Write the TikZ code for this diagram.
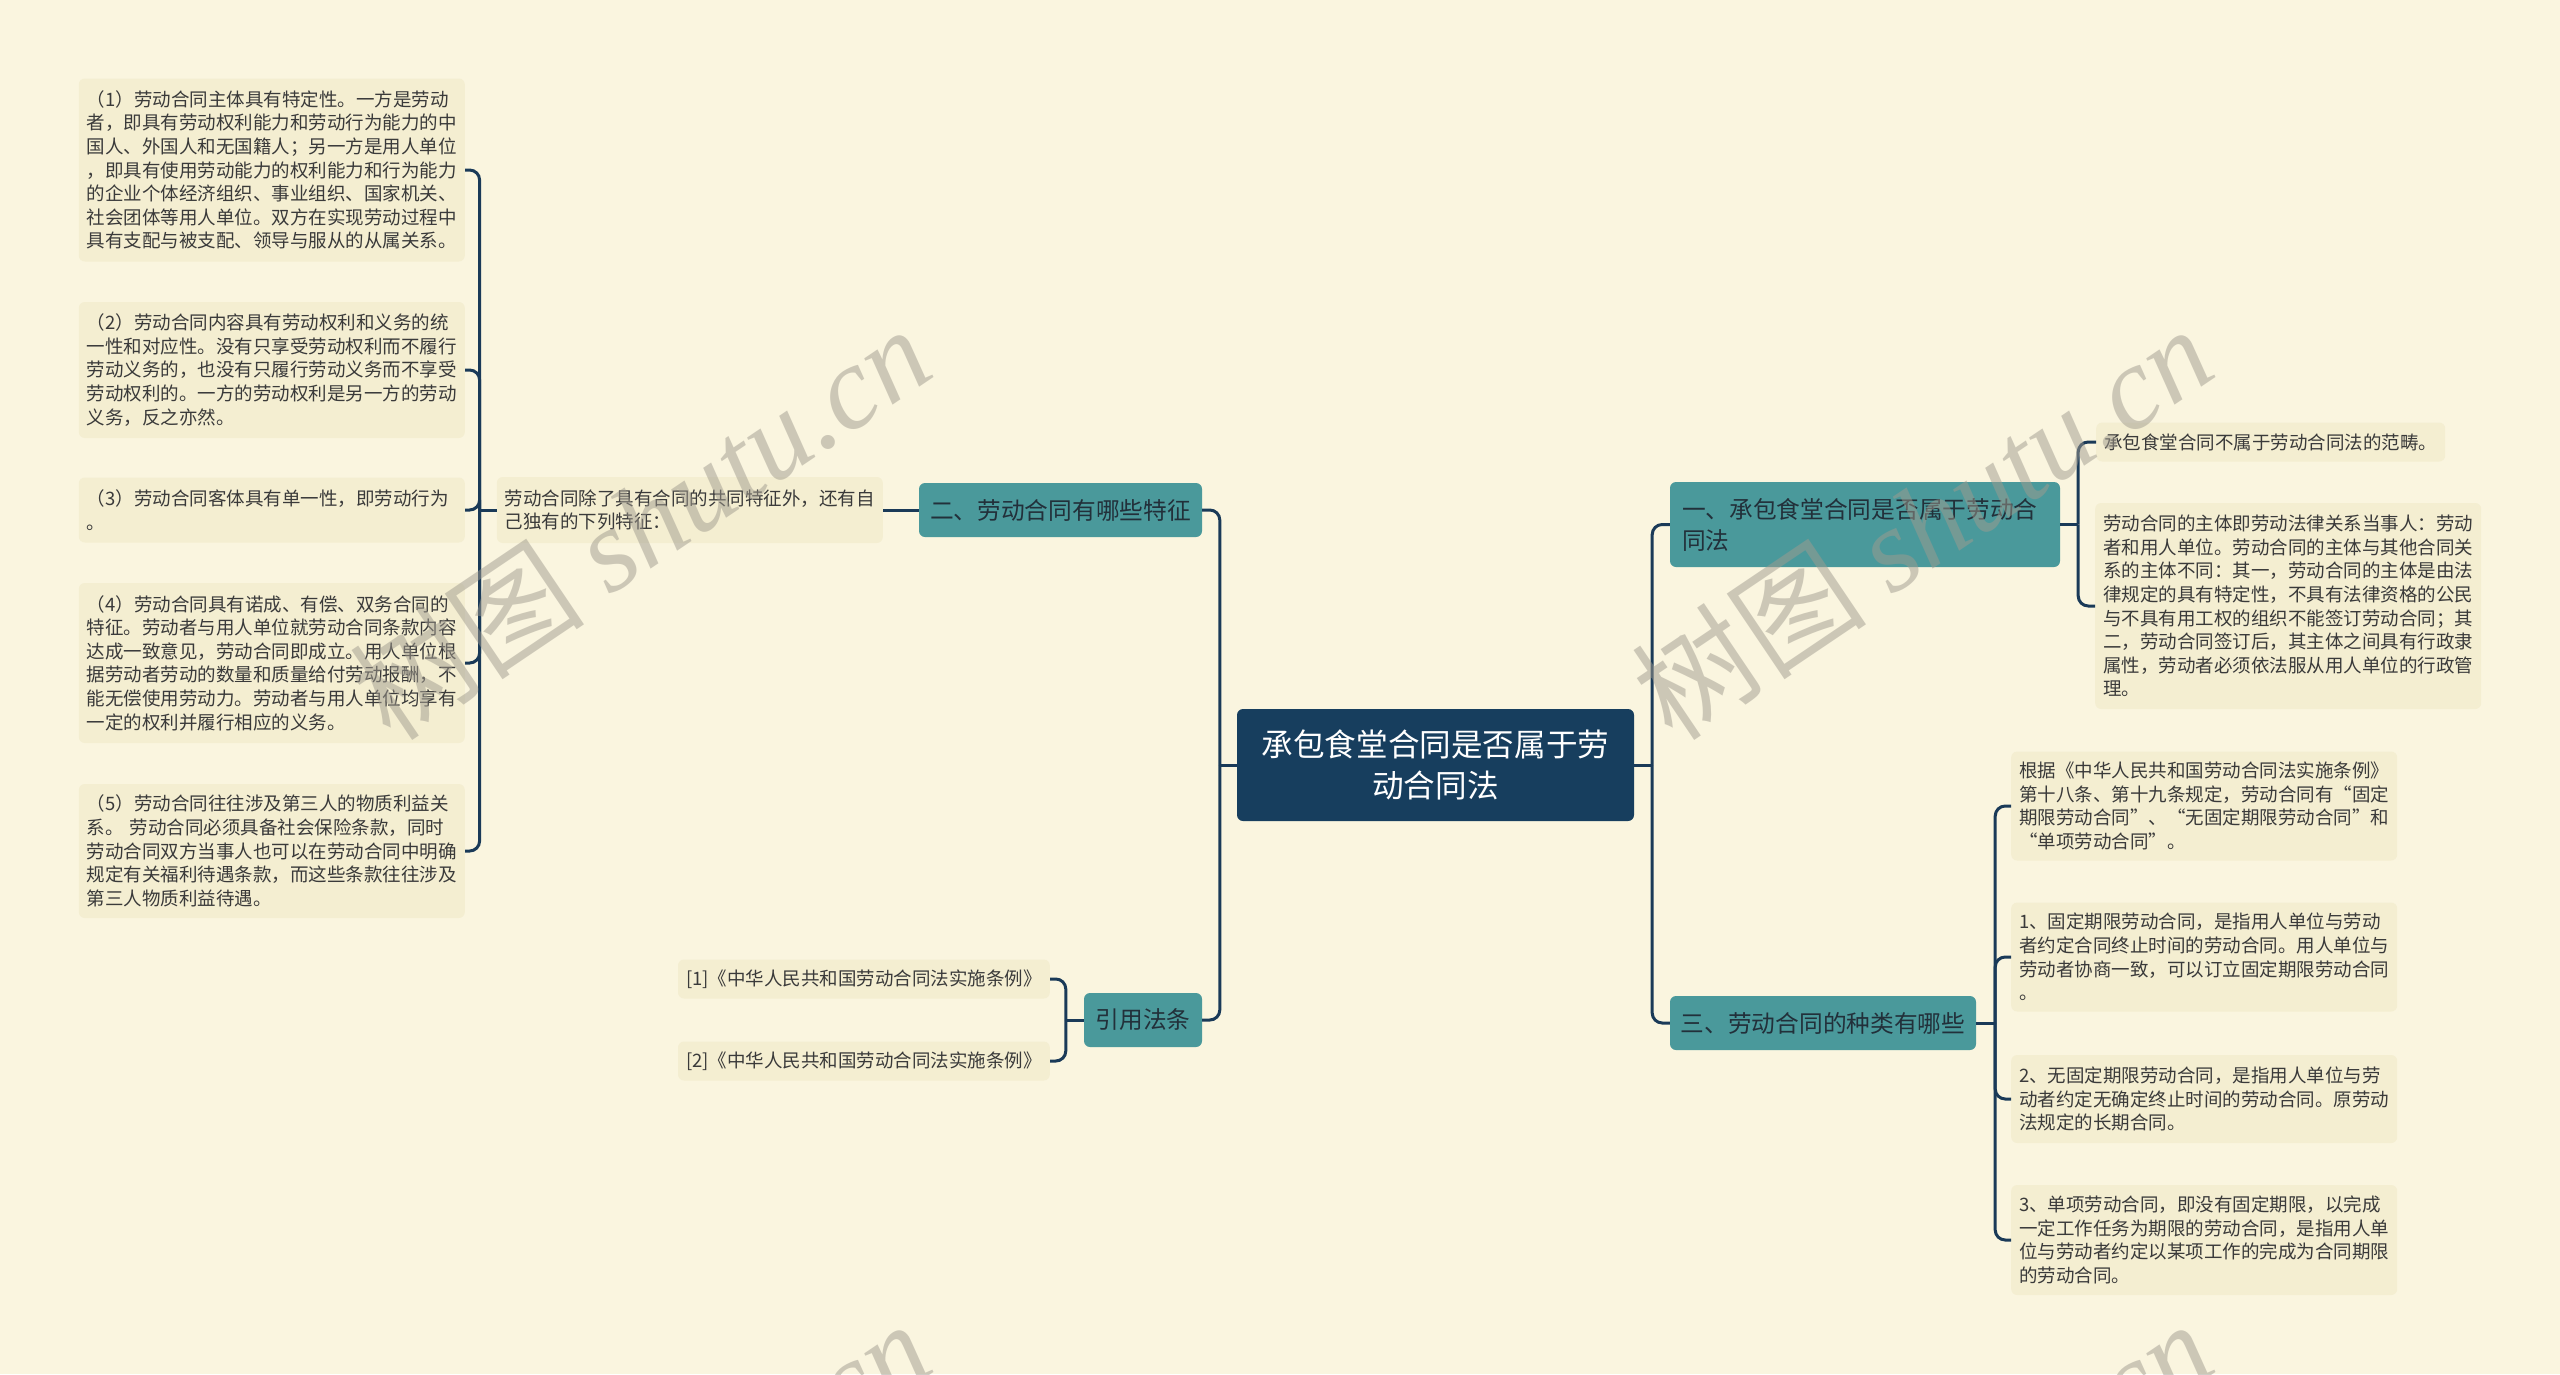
\documentclass[tikz,border=0pt]{standalone}
\usepackage{fontspec}
\setmainfont{Noto Sans CJK SC}
\newfontfamily\wmlatin{Liberation Serif}
\usetikzlibrary{calc}
\definecolor{bgc}{HTML}{FAF5DF}
\definecolor{leafc}{HTML}{F4EED1}
\definecolor{tealc}{HTML}{4A999B}
\definecolor{navyc}{HTML}{173E5E}
\definecolor{linec}{HTML}{1A3A58}
\definecolor{leaftext}{HTML}{3A3A3A}
\definecolor{topictext}{HTML}{22303A}
\definecolor{wmc}{RGB}{160,155,143}
\tikzset{
  conn/.style={draw=linec, line width=3pt},
  branch/.style={conn, rounded corners=10pt},
  leaf/.style={fill=leafc, rounded corners=6pt, inner xsep=8pt, inner ysep=0pt,
    text width=370pt, align=left, text=leaftext,
    font=\fontsize{18.5}{23.6}\selectfont},
  leafone/.style={fill=leafc, rounded corners=6pt, inner xsep=8pt, inner ysep=0pt,
    minimum height=39pt, text=leaftext, font=\fontsize{18.5}{23.6}\selectfont},
  topic/.style={fill=tealc, rounded corners=6pt, inner sep=0pt, text=topictext,
    font=\fontsize{23.7}{31}\selectfont},
  root/.style={fill=navyc, rounded corners=6pt, inner sep=0pt, text=white,
    align=center, font=\fontsize{31.6}{41}\selectfont},
  wm/.style={text=wmc, text opacity=0.5, inner sep=0pt,
    font=\fontsize{118}{118}\selectfont},
}
\begin{document}
\begin{tikzpicture}[x=1pt,y=-1pt]
\useasboundingbox (0,0) rectangle (2560,1374);
\clip (0,0) rectangle (2560,1374);
\fill[bgc] (0,0) rectangle (2560,1374);

% root and main topics
\node[root, minimum width=397pt, minimum height=112pt] (c) at (1435.5,765)
  {承包食堂合同是否属于劳\\动合同法};
\node[topic, minimum width=283pt, minimum height=54pt] (t2) at (1060.5,510)
  {二、劳动合同有哪些特征};
\node[topic, minimum width=118pt, minimum height=54pt] (t4) at (1143,1020)
  {引用法条};
\node[topic, inner xsep=12pt, text width=366pt, align=left, minimum height=85pt] (t1) at (1865,524.5)
  {一、承包食堂合同是否属于劳动合\\同法};
\node[topic, minimum width=306pt, minimum height=54pt] (t3) at (1823,1023)
  {三、劳动合同的种类有哪些};

% left side leaves
\node[leaf, anchor=east, minimum height=66pt] (l0) at (883,510)
  {劳动合同除了具有合同的共同特征外，还有自\\己独有的下列特征：};
\node[leaf, anchor=east, minimum height=183pt] (l1) at (465,170)
  {（1）劳动合同主体具有特定性。一方是劳动\\者，即具有劳动权利能力和劳动行为能力的中\\国人、外国人和无国籍人；另一方是用人单位\\，即具有使用劳动能力的权利能力和行为能力\\的企业个体经济组织、事业组织、国家机关、\\社会团体等用人单位。双方在实现劳动过程中\\具有支配与被支配、领导与服从的从属关系。};
\node[leaf, anchor=east, minimum height=136pt] (l2) at (465,370)
  {（2）劳动合同内容具有劳动权利和义务的统\\一性和对应性。没有只享受劳动权利而不履行\\劳动义务的，也没有只履行劳动义务而不享受\\劳动权利的。一方的劳动权利是另一方的劳动\\义务，反之亦然。};
\node[leaf, anchor=east, minimum height=65pt] (l3) at (465,510)
  {（3）劳动合同客体具有单一性，即劳动行为\\。};
\node[leaf, anchor=east, minimum height=160pt] (l4) at (465,663)
  {（4）劳动合同具有诺成、有偿、双务合同的\\特征。劳动者与用人单位就劳动合同条款内容\\达成一致意见，劳动合同即成立。用人单位根\\据劳动者劳动的数量和质量给付劳动报酬，不\\能无偿使用劳动力。劳动者与用人单位均享有\\一定的权利并履行相应的义务。};
\node[leaf, anchor=east, minimum height=134pt] (l5) at (465,851)
  {（5）劳动合同往往涉及第三人的物质利益关\\系。 劳动合同必须具备社会保险条款，同时\\劳动合同双方当事人也可以在劳动合同中明确\\规定有关福利待遇条款，而这些条款往往涉及\\第三人物质利益待遇。};

% citations
\node[leafone, anchor=east] (q1) at (1050,979) {[1]《中华人民共和国劳动合同法实施条例》};
\node[leafone, anchor=east] (q2) at (1050,1061) {[2]《中华人民共和国劳动合同法实施条例》};

% right side leaves of topic 1
\node[leafone, anchor=west] (r11) at (2096,442) {承包食堂合同不属于劳动合同法的范畴。};
\node[leaf, anchor=west, minimum height=206pt] (r12) at (2095,606)
  {劳动合同的主体即劳动法律关系当事人：劳动\\者和用人单位。劳动合同的主体与其他合同关\\系的主体不同：其一，劳动合同的主体是由法\\律规定的具有特定性，不具有法律资格的公民\\与不具有用工权的组织不能签订劳动合同；其\\二，劳动合同签订后，其主体之间具有行政隶\\属性，劳动者必须依法服从用人单位的行政管\\理。};

% right side leaves of topic 3
\node[leaf, anchor=west, minimum height=109pt] (r31) at (2011,806)
  {根据《中华人民共和国劳动合同法实施条例》\\第十八条、第十九条规定，劳动合同有“固定\\期限劳动合同”、“无固定期限劳动合同”和\\“单项劳动合同”。};
\node[leaf, anchor=west, minimum height=109pt] (r32) at (2011,957)
  {1、固定期限劳动合同，是指用人单位与劳动\\者约定合同终止时间的劳动合同。用人单位与\\劳动者协商一致，可以订立固定期限劳动合同\\。};
\node[leaf, anchor=west, minimum height=88pt] (r33) at (2011,1099)
  {2、无固定期限劳动合同，是指用人单位与劳\\动者约定无确定终止时间的劳动合同。原劳动\\法规定的长期合同。};
\node[leaf, anchor=west, minimum height=110pt] (r34) at (2011,1240)
  {3、单项劳动合同，即没有固定期限，以完成\\一定工作任务为期限的劳动合同，是指用人单\\位与劳动者约定以某项工作的完成为合同期限\\的劳动合同。};

% junctions
\coordinate (jcl) at ($(c.west)+(-17,0)$);
\coordinate (jcr) at ($(c.east)+(18,0)$);
\coordinate (jl0) at ($(l0.west)+(-17,0)$);
\coordinate (jt1) at ($(t1.east)+(18,0)$);
\coordinate (jt3) at ($(t3.east)+(19,0)$);
\coordinate (jt4) at ($(t4.west)+(-18,0)$);

% connectors
\draw[conn] (c.west) -- (jcl);
\draw[branch] (jcl) |- (t2.east);
\draw[branch] (jcl) |- (t4.east);
\draw[conn] (c.east) -- (jcr);
\draw[branch] (jcr) |- (t1.west);
\draw[branch] (jcr) |- (t3.west);

\draw[conn] (t2.west) -- (l0.east);
\draw[conn] (l0.west) -- (jl0);
\foreach \n in {l1,l2,l3,l4,l5} \draw[branch] (jl0) |- (\n.east);

\draw[conn] (t4.west) -- (jt4);
\foreach \n in {q1,q2} \draw[branch] (jt4) |- (\n.east);

\draw[conn] (t1.east) -- (jt1);
\foreach \n in {r11,r12} \draw[branch] (jt1) |- (\n.west);

\draw[conn] (t3.east) -- (jt3);
\foreach \n in {r31,r32,r33,r34} \draw[branch] (jt3) |- (\n.west);

% watermarks
\foreach \dx/\dy in {0/0,1282/0,0/995,1282/995}
  \node[wm, rotate=34] at (640+\dx,522+\dy) {树图 {\wmlatin\itshape shutu.cn}};
\end{tikzpicture}
\end{document}
